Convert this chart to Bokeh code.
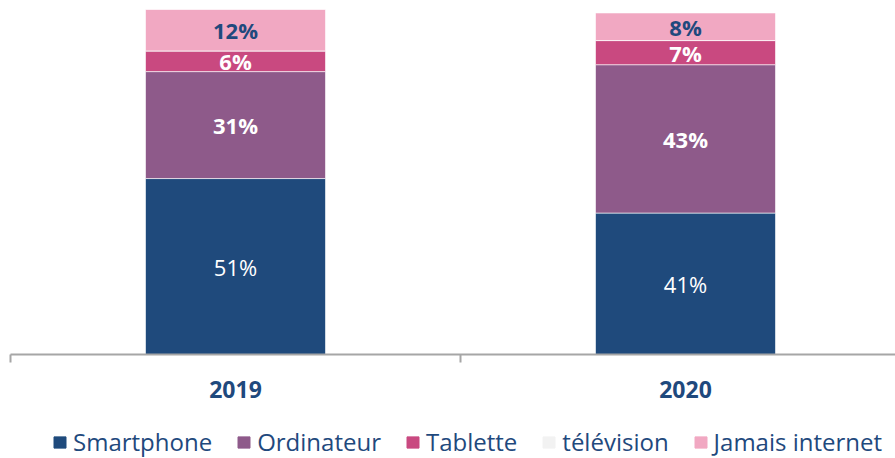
from bokeh.plotting import figure
from bokeh.layouts import column
from bokeh.models import Range1d, LinearAxis, FixedTicker, Legend, LegendItem, ColumnDataSource
from bokeh.core.properties import value
from bokeh.embed import file_html
from bokeh.resources import INLINE

years = ["2019", "2020"]
series = ["Smartphone", "Ordinateur", "Tablette", "télévision", "Jamais internet"]
smartphone = [51, 41]
ordinateur = [31, 43]
tablette = [6, 7]
television = [0, 0]
jamais = [12, 8]

colors = ["#1F4A7C", "#8E5A8A", "#C94980", "#F2F2F2", "#F1A8C2"]
label_colors = ["white", "white", "white", "#1F497D", "#1F497D"]
label_styles = ["normal", "bold", "bold", "bold", "bold"]

FONT = "Open Sans"
DARK = "#1F497D"

xs = list(range(len(years)))
data = dict(x=xs)
keys = ["s0", "s1", "s2", "s3", "s4"]
vals = [smartphone, ordinateur, tablette, television, jamais]
for k, v in zip(keys, vals):
    data[k] = v
src = ColumnDataSource(data)

p = figure(width=895, height=410, output_backend="svg", toolbar_location=None,
           x_range=Range1d(-0.5, -0.5 + 885 / 450), y_range=Range1d(0, 100),
           x_axis_type=None, y_axis_type=None,
           min_border_left=10, min_border_right=0, min_border_top=9, min_border_bottom=56)
p.outline_line_color = None

renderers = p.vbar_stack(keys, x="x", width=0.4, source=src, color=colors,
                         line_color="white", line_width=0.6)

# data labels
for i, v in enumerate(vals):
    lx, ly, lt = [], [], []
    for j in range(len(years)):
        if v[j] <= 0:
            continue
        base = sum(vals[m][j] for m in range(i))
        lx.append(xs[j])
        ly.append(base + v[j] / 2)
        lt.append(f"{v[j]}%")
    if lx:
        p.text(x=lx, y=ly, text=lt, text_align="center", text_baseline="middle",
               text_font=value(FONT), text_font_size="22px",
               text_font_style=label_styles[i], text_color=label_colors[i])

ax1 = LinearAxis(ticker=FixedTicker(ticks=[-0.5, 0.5, 1.5]),
                 major_label_text_font_size="0px", major_label_standoff=0,
                 axis_line_color="#A6A6A6", axis_line_width=2,
                 major_tick_line_color="#A6A6A6", major_tick_line_width=2,
                 major_tick_out=8, major_tick_in=0, minor_tick_line_color=None)
ax1.major_label_overrides = {-0.5: "", 0.5: "", 1.5: ""}
p.add_layout(ax1, "below")

ax2 = LinearAxis(ticker=FixedTicker(ticks=xs),
                 major_label_overrides={i: y for i, y in zip(xs, years)},
                 axis_line_color=None, major_tick_line_color=None, minor_tick_line_color=None,
                 major_tick_out=0, major_tick_in=0,
                 major_label_standoff=18,
                 major_label_text_font=FONT, major_label_text_font_style="bold",
                 major_label_text_font_size="23px", major_label_text_color=DARK)
p.add_layout(ax2, "below")

# legend in its own strip below the chart
lf = figure(width=895, height=48, output_backend="svg", toolbar_location=None,
            x_range=Range1d(0, 1), y_range=Range1d(0, 1),
            x_axis_type=None, y_axis_type=None,
            min_border_left=0, min_border_right=0, min_border_top=0, min_border_bottom=0)
lf.outline_line_color = None
lrs = [lf.vbar(x=[5], top=[5], bottom=[4], width=0.1, color=c) for c in colors]
legend = Legend(items=[LegendItem(label=s, renderers=[r]) for s, r in zip(series, lrs)],
                orientation="horizontal", location=(42, 0),
                label_text_font=FONT, label_text_font_size="24px", label_text_color=DARK,
                glyph_width=15, glyph_height=14, label_standoff=6, spacing=24,
                padding=0, margin=0, border_line_color=None, background_fill_alpha=0)
lf.add_layout(legend)

layout = column(p, lf, spacing=0)
open("out.html", "w").write(file_html(layout, INLINE))
